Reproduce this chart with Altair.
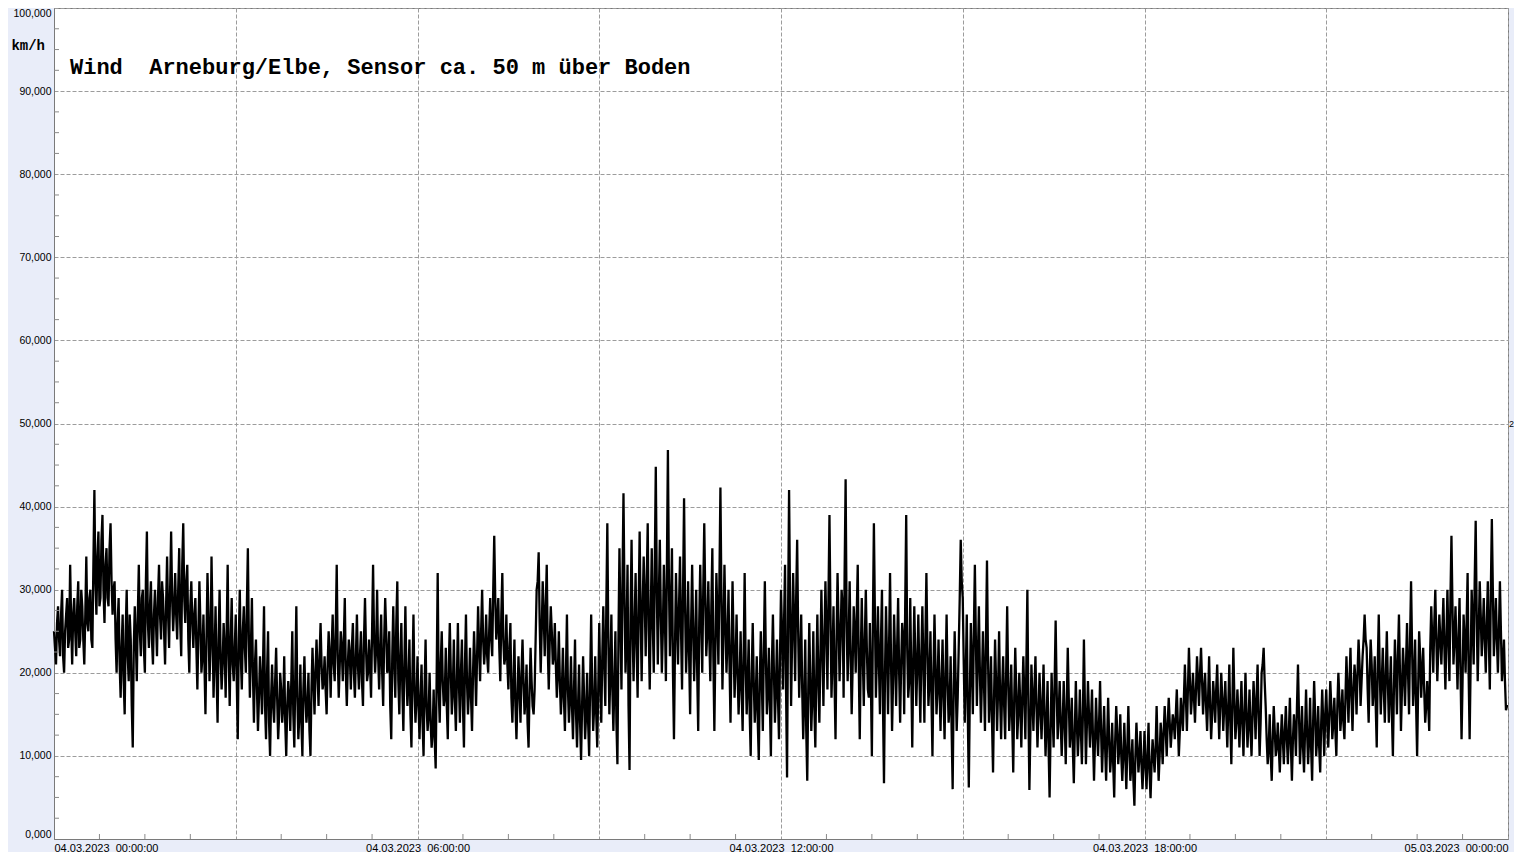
import altair as alt
import pandas as pd

# wind speed km/h at even minutes (00:00, 00:02, ... 24:00), 04.03.2023
wind_even = [
    25, 21, 28, 22, 30, 20, 27, 23, 33, 21,
    29, 22, 31, 24, 28, 21, 34, 25, 30, 23,
    42, 27, 37, 29, 39, 26, 35, 28, 38, 27,
    31, 20, 29, 17, 27, 15, 30, 19, 24, 11,
    28, 19, 33, 22, 30, 20, 37, 23, 31, 21,
    30, 22, 33, 24, 29, 21, 34, 23, 37, 25,
    32, 24, 35, 22, 38, 26, 33, 20, 31, 23,
    29, 18, 31, 20, 27, 15, 32, 19, 34, 17,
    28, 14, 30, 18, 26, 17, 33, 16, 29, 19,
    27, 12, 30, 18, 28, 20, 35, 17, 29, 14,
    24, 13, 22, 15, 28, 12, 25, 10, 21, 14,
    23, 12, 20, 14, 22, 10, 19, 13, 25, 11,
    28, 12, 21, 10, 22, 14, 20, 10, 23, 15,
    24, 16, 26, 18, 22, 15, 25, 17, 27, 19,
    33, 17, 25, 19, 29, 16, 24, 18, 26, 17,
    27, 18, 25, 16, 29, 19, 24, 17, 33, 20,
    30, 18, 27, 16, 29, 20, 25, 12, 28, 17,
    31, 15, 26, 13, 28, 16, 24, 11, 27, 14,
    22, 12, 21, 10, 24, 13, 20, 11, 18, 8.5,
    32, 14, 25, 16, 23, 12, 26, 15, 24, 13,
    26, 14, 24, 11, 27, 15, 23, 13, 25, 16,
    28, 19, 30, 21, 27, 20, 29, 22, 36.5, 24,
    29, 19, 32, 21, 27, 18, 26, 14, 24, 12,
    22, 14, 24, 15, 21, 11, 23, 16, 18, 30,
    34.5, 20, 31, 22, 33, 18, 28, 21, 26, 17,
    25, 15, 23, 13, 27, 14, 22, 12, 24, 11,
    21, 9.5, 22, 12, 20, 10, 27, 13, 22, 11,
    26, 14, 28, 16, 38, 15, 27, 13, 25, 9,
    35, 18, 41.6, 20, 33, 8.3, 36, 19, 32, 17,
    37, 19, 34, 22, 38, 18, 35, 20, 44.8, 21,
    36, 20, 33, 19, 46.8, 22, 35, 12, 32, 21,
    34, 18, 41, 20, 31, 15, 33, 19, 30, 13,
    33, 20, 38, 22, 31, 19, 35, 13, 32, 21,
    42.3, 18, 33, 20, 30, 14, 31, 17, 27, 15,
    25, 13, 32, 15, 24, 10, 26, 14, 22, 9.5,
    25, 13, 31, 15, 23, 10, 27, 14, 24, 12,
    30, 18, 33, 7.4, 42, 16, 32, 19, 36, 17,
    27, 12, 24, 7, 26, 13, 25, 11, 27, 14,
    30, 16, 31, 18, 39, 17, 28, 12, 32, 19,
    30, 17, 43.3, 19, 31, 15, 28, 20, 33, 12,
    29, 16, 30, 18, 26, 10, 38, 17, 28, 15,
    30, 6.7, 28, 15, 32, 13, 27, 16, 29, 14,
    26, 15, 39, 17, 29, 11, 28, 16, 27, 14,
    28, 14, 32, 16, 25, 10, 27, 15, 24, 13,
    24, 12, 27, 14, 22, 6, 25, 13, 23, 36,
    29, 14, 27, 6.2, 26, 15, 33, 16, 28, 14,
    25, 13, 33.5, 14, 22, 8, 24, 13, 25, 12,
    22, 12, 28, 13, 21, 8, 23, 12, 20, 11,
    22, 12, 30, 5.9, 21, 13, 22, 11, 20, 12,
    21, 10, 19, 5, 20, 11, 26.3, 12, 19, 10,
    19, 9, 23, 11, 17, 6.7, 19, 10, 18, 9,
    24, 9, 19, 11, 18, 7, 17, 10, 19, 8,
    16, 7, 17, 8, 14, 5, 16, 9, 15, 7,
    14, 6, 16, 7, 12, 4, 14, 8, 13, 6,
    13, 6, 14, 4.9, 12, 8, 16, 7, 14, 9,
    16, 10, 17, 11, 15, 12, 18, 10, 17, 13,
    21, 13, 23, 15, 20, 14, 22, 16, 23, 15,
    20, 13, 22, 12, 19, 14, 21, 12, 20, 13,
    19, 11, 21, 9, 23, 12, 18, 11, 19, 10,
    20, 11, 18, 10, 19, 12, 21, 10, 20, 23,
    16, 9, 15, 7, 16, 10, 14, 8, 15, 9,
    16, 9, 17, 7, 15, 10, 21, 9, 16, 8,
    18, 9, 17, 7, 19, 10, 16, 8, 18, 10,
    18, 11, 19, 12, 17, 10, 20, 13, 18, 12,
    22, 14, 23, 13, 21, 15, 24, 16, 22, 27,
    23, 14, 24, 16, 22, 11, 27, 15, 23, 14,
    25, 14, 22, 10, 24, 15, 27, 13, 23, 16,
    26, 15, 31, 16, 24, 10, 25, 17, 23, 14,
    19, 13, 28, 20, 30, 19, 27, 21, 29, 18,
    30, 19, 36.5, 21, 28, 18, 29, 12, 27, 20,
    32, 12, 30, 21, 38.3, 19, 31, 22, 29, 20,
    31, 18, 38.5, 22, 29, 20, 31, 19, 24, 15.5,
    16,
]

# wind speed km/h at odd minutes (00:01, 00:03, ... 23:59)
wind_odd = [
    23, 26, 24, 27, 22, 25, 29, 24, 26, 27,
    25, 28, 23, 30, 24, 27, 26, 29, 24, 33,
    31, 34, 28, 36, 30, 33, 29, 35, 31, 30,
    24, 26, 21, 23, 19, 25, 22, 27, 16, 23,
    24, 27, 25, 29, 23, 31, 26, 28, 24, 27,
    26, 29, 27, 31, 25, 28, 27, 30, 29, 28,
    27, 30, 26, 33, 29, 31, 24, 28, 26, 27,
    23, 25, 26, 22, 21, 24, 27, 23, 26, 22,
    20, 24, 22, 21, 23, 25, 22, 24, 21, 23,
    19, 24, 22, 25, 23, 28, 24, 23, 20, 21,
    18, 17, 19, 21, 16, 20, 14, 17, 16, 19,
    17, 15, 18, 16, 14, 16, 17, 19, 15, 20,
    17, 15, 14, 18, 17, 16, 13, 18, 19, 20,
    20, 22, 21, 19, 18, 21, 22, 23, 21, 25,
    22, 21, 23, 24, 20, 21, 22, 23, 20, 22,
    21, 22, 19, 24, 23, 20, 21, 25, 24, 23,
    22, 23, 20, 24, 25, 21, 16, 22, 21, 26,
    19, 22, 18, 21, 20, 19, 15, 20, 18, 17,
    16, 17, 14, 18, 16, 15, 14, 13, 12, 20,
    18, 21, 19, 17, 16, 21, 20, 18, 17, 19,
    19, 20, 16, 21, 19, 18, 17, 20, 21, 22,
    23, 25, 24, 23, 22, 25, 24, 30, 29, 26,
    23, 27, 24, 22, 21, 23, 17, 19, 16, 17,
    18, 20, 19, 17, 14, 18, 19, 15, 24, 31,
    26, 25, 27, 28, 23, 24, 25, 22, 21, 20,
    19, 18, 17, 20, 18, 17, 16, 18, 15, 16,
    14, 16, 17, 15, 14, 19, 18, 16, 15, 18,
    19, 22, 21, 28, 24, 20, 18, 19, 14, 24,
    26, 31, 29, 24, 16, 27, 25, 26, 23, 28,
    27, 28, 29, 31, 25, 27, 26, 33, 30, 29,
    27, 25, 27, 33, 31, 28, 20, 23, 26, 28,
    25, 30, 28, 24, 22, 26, 25, 24, 20, 26,
    26, 30, 29, 25, 24, 28, 22, 23, 27, 31,
    29, 25, 26, 24, 21, 23, 24, 21, 20, 19,
    18, 22, 21, 19, 15, 20, 19, 17, 14, 19,
    19, 23, 22, 18, 16, 21, 20, 18, 17, 22,
    25, 26, 18, 27, 28, 24, 26, 29, 25, 22,
    18, 17, 13, 18, 19, 17, 16, 20, 19, 22,
    23, 24, 25, 29, 27, 22, 19, 24, 26, 24,
    28, 32, 26, 24, 22, 21, 25, 27, 21, 22,
    22, 24, 23, 17, 19, 26, 27, 22, 21, 24,
    16, 20, 22, 23, 21, 19, 22, 23, 20, 21,
    24, 28, 23, 19, 20, 21, 22, 21, 20, 22,
    21, 24, 23, 19, 17, 20, 21, 18, 18, 19,
    17, 20, 19, 16, 13, 18, 19, 17, 29, 31,
    21, 20, 15, 17, 21, 25, 24, 22, 20, 19,
    19, 24, 22, 17, 14, 17, 19, 18, 17, 18,
    16, 20, 19, 16, 14, 17, 18, 15, 16, 17,
    17, 21, 16, 13, 17, 18, 16, 15, 16, 16,
    15, 14, 11, 13, 15, 19, 18, 15, 14, 14,
    14, 16, 17, 13, 11, 13, 14, 13, 13, 15,
    16, 14, 15, 14, 12, 12, 13, 14, 13, 12,
    11, 12, 12, 10, 9, 12, 13, 11, 10, 10,
    10, 11, 11, 9, 7, 10, 11, 10, 9, 9,
    9, 10, 8, 9, 10, 11, 11, 10, 12, 13,
    13, 14, 14, 13, 14, 15, 14, 13, 15, 17,
    17, 18, 19, 17, 17, 18, 19, 20, 19, 18,
    16, 17, 16, 15, 17, 18, 16, 16, 17, 16,
    15, 16, 14, 16, 17, 14, 15, 15, 14, 15,
    15, 14, 13, 15, 16, 17, 15, 14, 21, 19,
    12, 11, 10, 12, 13, 11, 11, 12, 12, 13,
    12, 13, 11, 12, 13, 16, 15, 12, 11, 13,
    13, 12, 11, 14, 15, 12, 11, 14, 14, 15,
    14, 15, 16, 14, 13, 16, 17, 15, 14, 17,
    18, 19, 17, 18, 19, 20, 21, 19, 24, 24,
    18, 20, 21, 18, 16, 21, 20, 19, 18, 20,
    19, 18, 15, 18, 20, 22, 20, 18, 20, 21,
    20, 24, 23, 19, 16, 18, 22, 20, 18, 16,
    16, 23, 24, 26, 24, 23, 24, 25, 23, 24,
    24, 29, 28, 24, 23, 24, 20, 19, 24, 26,
    20, 21, 26, 31, 27, 25, 27, 25, 24, 26,
    24, 30, 30, 25, 24, 25, 25, 21, 19, 16,
]

x_major = [0, 3, 6, 9, 12, 15, 18, 21, 24]
x_minor = [0.75, 1.5, 2.25, 3.75, 4.5, 5.25, 6.75, 7.5, 8.25, 9.75, 10.5, 11.25,
           12.75, 13.5, 14.25, 15.75, 16.5, 17.25, 18.75, 19.5, 20.25, 21.75, 22.5, 23.25]
y_major = [0, 10, 20, 30, 40, 50, 60, 70, 80, 90, 100]
y_minor = [2.5, 5, 7.5, 12.5, 15, 17.5, 22.5, 25, 27.5, 32.5, 35, 37.5, 42.5, 45, 47.5,
           52.5, 55, 57.5, 62.5, 65, 67.5, 72.5, 75, 77.5, 82.5, 85, 87.5, 92.5, 95, 97.5]

NB = "\u00a0"
title_text = "Wind" + NB + NB + "Arneburg/Elbe, Sensor ca. 50 m über Boden"
unit_text = "km/h"

W, H = 1454, 831
FONT = "Liberation Sans"
GRID = "#9c9c9c"

rows = [(2 * i, v) for i, v in enumerate(wind_even)] + [(2 * i + 1, v) for i, v in enumerate(wind_odd)]
rows.sort()
df = pd.DataFrame({"h": [m / 60 for m, _ in rows], "v": [v for _, v in rows]})

label_expr = ("datum.value == 0 ? '04.03.2023" + NB + NB + "00:00:00' : "
              "datum.value == 6 ? '04.03.2023" + NB + NB + "06:00:00' : "
              "datum.value == 12 ? '04.03.2023" + NB + NB + "12:00:00' : "
              "datum.value == 18 ? '04.03.2023" + NB + NB + "18:00:00' : "
              "datum.value == 24 ? '05.03.2023" + NB + NB + "00:00:00' : ''")

X = alt.X("h:Q", scale=alt.Scale(domain=[0, 24], nice=False, zero=False),
          axis=alt.Axis(values=x_major, labelExpr=label_expr, grid=True, gridDash=[4, 2],
                        gridColor=GRID, gridWidth=1, ticks=False, domainColor="#7a7a7a",
                        labelFlush=True, labelFont=FONT, labelFontSize=11, labelColor="#000000",
                        labelPadding=3, labelOverlap=False, title=None))
Y = alt.Y("v:Q", scale=alt.Scale(domain=[0, 100], nice=False),
          axis=alt.Axis(values=y_major, labelExpr="replace(format(datum.value, '.3f'), '.', ',')",
                        grid=True, gridDash=[4, 2], gridColor=GRID, gridWidth=1, ticks=False,
                        domainColor="#7a7a7a", labelFlush=True, labelFont=FONT, labelFontSize=10.5,
                        labelColor="#000000", labelPadding=3, title=None))

line = alt.Chart(df).mark_line(color="#000000", strokeWidth=2.3, interpolate="linear").encode(x=X, y=Y)

xt = alt.Chart(pd.DataFrame({"h": x_minor})).mark_rule(color="#8a8a8a", strokeWidth=1).encode(
    x=X, y=alt.value(H), y2=alt.value(H - 5))
yt = alt.Chart(pd.DataFrame({"v": y_minor})).mark_rule(color="#8a8a8a", strokeWidth=1).encode(
    y=Y, x=alt.value(0), x2=alt.value(5))

title = alt.Chart(pd.DataFrame({"t": [title_text]})).mark_text(
    font="Liberation Mono", fontSize=22, fontWeight="bold", align="left", baseline="middle",
    color="#000000").encode(text="t:N", x=alt.value(16), y=alt.value(59))
unit = alt.Chart(pd.DataFrame({"t": [unit_text]})).mark_text(
    font="Liberation Mono", fontSize=14, fontWeight="bold", align="right", baseline="middle",
    color="#000000").encode(text="t:N", x=alt.value(-9), y=alt.value(38))
two = alt.Chart(pd.DataFrame({"t": ["2"], "v": [50]})).mark_text(
    font=FONT, fontSize=9, align="left", baseline="middle", color="#000000").encode(
    text="t:N", x=alt.value(W + 1), y=Y)

chart = alt.layer(line, xt, yt, title, unit, two).properties(
    width=W, height=H, autosize="none",
    padding={"left": 46, "top": 0, "right": 6, "bottom": 13},
).configure(background="#e9edf9").configure_view(fill="#ffffff", stroke="#7a7a7a", strokeWidth=1)

chart.save("out.html", embed_options={"renderer": "svg", "actions": False})
